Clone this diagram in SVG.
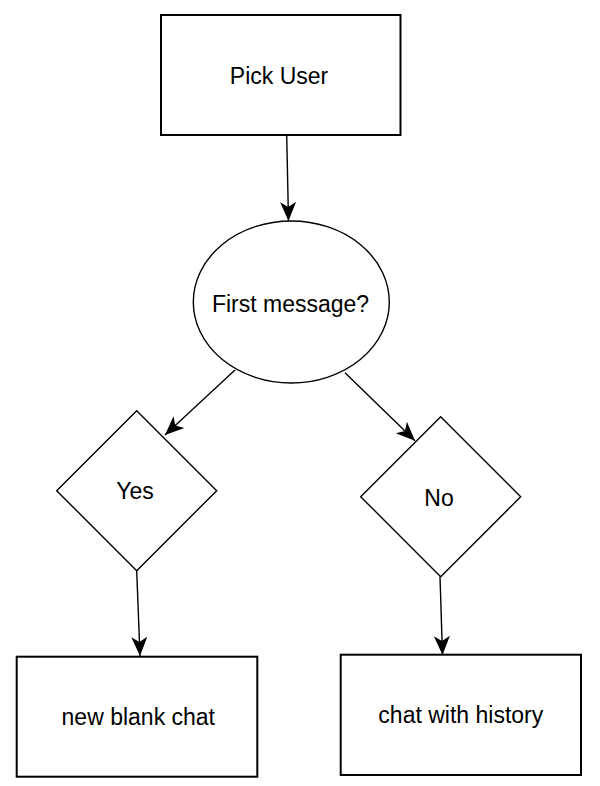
<svg xmlns="http://www.w3.org/2000/svg" width="600" height="786" viewBox="0 0 600 786">
<style>
.box{fill:#fff;stroke:#000;stroke-width:2}
.shape{fill:#fff;stroke:#000;stroke-width:1.4}
.lbl{font-family:"Liberation Sans",Arial,sans-serif;font-size:23px;fill:#000;text-anchor:middle}
.conn{fill:none;stroke:#000;stroke-width:1.4;marker-end:url(#arr)}
</style>
<defs>
<marker id="arr" markerUnits="userSpaceOnUse" markerWidth="24" markerHeight="20" viewBox="-20 -10 24 20" refX="0" refY="0" orient="auto" overflow="visible">
<path d="M0,0 L-19,-8 L-14,0 L-19,8 Z" fill="#000"/>
</marker>
</defs>
<rect width="600" height="786" fill="#fff"/>
<g id="connectors">
<line class="conn" x1="286.7" y1="135" x2="288.5" y2="221"/>
<line class="conn" x1="235" y1="370" x2="165" y2="435"/>
<line class="conn" x1="345" y1="372.7" x2="415" y2="440.7"/>
<line class="conn" x1="136.7" y1="570.7" x2="140" y2="656"/>
<line class="conn" x1="440" y1="576.7" x2="442.5" y2="655"/>
</g>
<g id="pick-user">
<rect class="box" x="161" y="15" width="239.5" height="120"/>
<text class="lbl" x="279" y="84.3">Pick User</text>
</g>
<g id="first-message">
<ellipse class="shape" cx="291.3" cy="302" rx="98" ry="81"/>
<text class="lbl" x="290.5" y="311.7">First message?</text>
</g>
<g id="yes">
<polygon class="shape" points="136.7,410.7 216.7,490.7 136.7,570.7 56.7,490.7"/>
<text class="lbl" x="135" y="499.3">Yes</text>
</g>
<g id="no">
<polygon class="shape" points="440.7,416.7 520.7,496.7 440.7,576.7 360.7,496.7"/>
<text class="lbl" x="439" y="505.7">No</text>
</g>
<g id="new-blank-chat">
<rect class="box" x="16.7" y="656.7" width="240.6" height="120"/>
<text class="lbl" x="138.3" y="725">new blank chat</text>
</g>
<g id="chat-with-history">
<rect class="box" x="340.7" y="654.7" width="240.3" height="120.3"/>
<text class="lbl" x="460.8" y="723.3">chat with history</text>
</g>
</svg>
